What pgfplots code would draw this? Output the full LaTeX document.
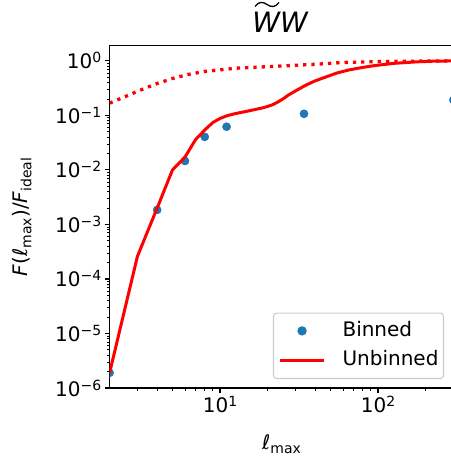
\documentclass[border=0pt]{standalone}
\usepackage{pgfplots}
\pgfplotsset{compat=1.18}
\usepackage{fontspec}
\setmainfont{DejaVu Sans}
\definecolor{tabblue}{HTML}{1F77B4}
\newcommand{\tp}[1]{10\raisebox{6bp}{\fontsize{14bp}{14bp}\selectfont #1}}
\newcommand{\sub}[1]{\raisebox{-4bp}{\fontsize{14bp}{14bp}\selectfont #1}}
\pgfplotsset{dotlegend/.style={legend image code/.code={\draw[##1] plot coordinates {(22bp,0bp)};}}}
\begin{document}
\begin{tikzpicture}[x=1bp,y=1bp]
\path[use as bounding box] (-109.6,-75) rectangle (341.4,388);
\begin{axis}[
  at={(0,0)}, anchor=south west,
  scale only axis, width=343.8bp, height=342.3bp,
  xmode=log, ymode=log,
  xmin=2, xmax=300, ymin=1e-6, ymax=1.9,
  xtick={10,100}, xticklabels={\tp{1},\tp{2}},
  minor xtick={3,4,5,6,7,8,9,20,30,40,50,60,70,80,90,200,300},
  ytick={1e-6,1e-5,1e-4,1e-3,1e-2,1e-1,1},
  yticklabels={\tp{−6},\tp{−5},\tp{−4},\tp{−3},\tp{−2},\tp{−1},\tp{0}},
  minor ytick={2e-6,3e-6,4e-6,5e-6,6e-6,7e-6,8e-6,9e-6,
               2e-5,3e-5,4e-5,5e-5,6e-5,7e-5,8e-5,9e-5,
               2e-4,3e-4,4e-4,5e-4,6e-4,7e-4,8e-4,9e-4,
               2e-3,3e-3,4e-3,5e-3,6e-3,7e-3,8e-3,9e-3,
               2e-2,3e-2,4e-2,5e-2,6e-2,7e-2,8e-2,9e-2,
               0.2,0.3,0.4,0.5,0.6,0.7,0.8,0.9},
  tick align=outside, xtick pos=bottom, ytick pos=left,
  major tick length=4.9bp, minor tick length=2.8bp,
  every tick/.style={black, line width=1.1bp},
  every minor tick/.append style={line width=0.83bp},
  axis line style={line width=1.1bp, black},
  tick label style={font=\fontsize{20bp}{24bp}\selectfont, black},
  label style={font=\fontsize{20bp}{24bp}\selectfont},
  xlabel={\textit{ℓ}\sub{max}},
  ylabel={\textit{F}(\textit{ℓ}\sub{max})/\textit{F}\sub{ideal}},
  x label style={at={(axis description cs:0.5,-0.164)}, anchor=center},
  y label style={at={(axis description cs:-0.2548,0.5)}, anchor=center},
  clip marker paths=true,
  legend style={at={(axis description cs:1,0)}, anchor=south east, xshift=-9.4bp, yshift=9bp,
    draw=black!20, line width=1.1bp, rounded corners=3bp, fill=white,
    font=\fontsize{20bp}{24bp}\selectfont, inner xsep=5bp, inner ysep=8bp, row sep=10bp,
    nodes={inner sep=0bp, text height=15.2bp, text depth=4.5bp},
    /tikz/every odd column/.append style={column sep=17bp}},
  legend cell align=left,
  legend image code/.code={\draw[#1] (0bp,0bp) -- (44bp,0bp);},
]
\addplot[red, line width=3.3bp, dash pattern=on 3.3bp off 5bp, forget plot] coordinates {
(2,0.168) (2.5,0.22) (3.16,0.294) (4,0.385) (5,0.475) (6.2,0.56) (8,0.64) (10,0.685)
(12.7,0.735) (18.7,0.776) (27.7,0.82) (41,0.87) (60,0.935) (98,0.97) (160,0.986) (300,1.0)};
\addplot[only marks, mark=*, mark size=4.1bp, color=tabblue,
  mark options={solid, fill=tabblue, draw=none}, dotlegend] coordinates {
(2,1.9e-6) (4,1.85e-3) (6,0.0146) (8,0.0404) (11,0.062) (34,0.107) (300,0.192)};
\addlegendentry{Binned}
\addplot[red, line width=3bp, line join=round, no marks] coordinates {
(2,1.9e-6) (3,2.6e-4) (4,2.0e-3) (5,1.0e-2) (6,1.72e-2) (7,3.6e-2) (8,5.4e-2) (9,0.074)
(10,0.088) (11,0.098) (12,0.105) (13.5,0.113) (15,0.12) (17,0.13) (18.5,0.137) (20,0.146)
(21.5,0.157) (23,0.173) (25,0.2) (27,0.235) (30.6,0.29) (35,0.36) (40,0.43) (47,0.51)
(55,0.6) (65,0.68) (78,0.75) (95,0.82) (125,0.9) (175,0.96) (230,0.99) (300,1.0)};
\addlegendentry{Unbinned}
\end{axis}
\node[anchor=base, font=\fontsize{28bp}{30bp}\selectfont\itshape, inner sep=0pt] at (170.4,355.5) {WW};
\draw[line width=1.3bp] (145.4,381.5) .. controls (149,386.5) and (153,386.5) .. (157.4,383.5)
  .. controls (161.8,380.5) and (165.8,380.5) .. (169.4,385.5);
\end{tikzpicture}
\end{document}
